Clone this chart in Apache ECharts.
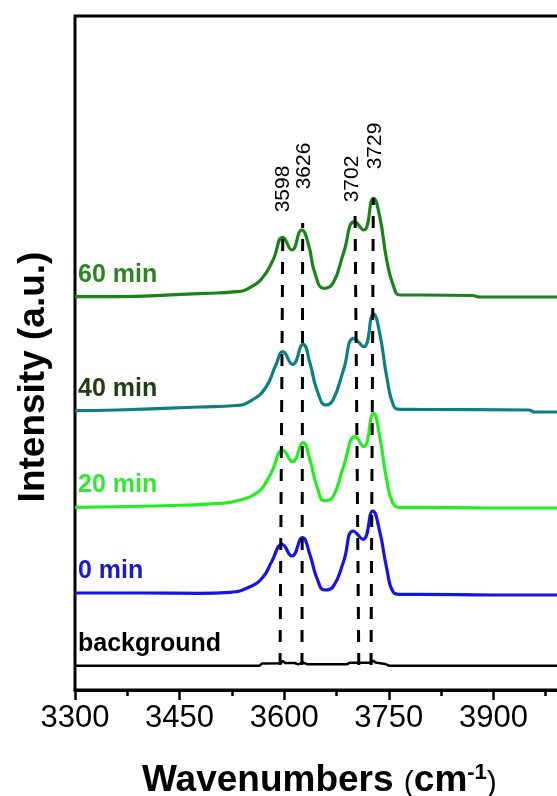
<!DOCTYPE html>
<html>
<head>
<meta charset="utf-8">
<script src="https://cdn.jsdelivr.net/npm/echarts@6/dist/echarts.min.js"></script>
<style>
html,body{margin:0;padding:0;background:#fff;}
#chart{width:557px;height:796px;}
</style>
</head>
<body>
<div id="chart"></div>
<script>
// ---- data (wavenumber in cm-1, intensity in arbitrary offset units) ----
const seriesNames = ['background', '0 min', '20 min', '40 min', '60 min'];

const xBg = [3300, 3565, 3568, 3595, 3598, 3601, 3615, 3620, 3627, 3633, 3690, 3694, 3725, 3728, 3731, 3745, 3750, 4050];
const yBg = [2.43, 2.43, 2.65, 2.67, 2.92, 2.70, 2.70, 2.57, 2.77, 2.57, 2.57, 2.73, 2.73, 2.92, 2.75, 2.60, 2.43, 2.43];

const x0 = [3300, 3400, 3479, 3522, 3551, 3570, 3582, 3597, 3611, 3626, 3637, 3647, 3658, 3670, 3685, 3699, 3713, 3727, 3737, 3747, 3756, 3766, 3795, 3900, 4050];
const y0 = [9.70, 9.70, 9.67, 9.77, 10.33, 11.33, 12.83, 14.57, 13.40, 15.23, 13.50, 11.17, 10.00, 10.33, 12.83, 15.90, 15.07, 17.90, 15.83, 12.17, 9.83, 9.57, 9.57, 9.50, 9.50];

const x20 = [3300, 3412, 3507, 3537, 3563, 3575, 3583, 3598, 3612, 3627, 3637, 3647, 3658, 3670, 3685, 3702, 3714, 3728, 3737, 3747, 3756, 3766, 3795, 3900, 4050];
const y20 = [18.27, 18.40, 18.67, 19.00, 19.83, 20.90, 21.95, 24.00, 22.83, 24.73, 23.00, 20.33, 18.93, 19.33, 22.33, 25.33, 24.33, 27.67, 25.33, 21.00, 18.67, 18.27, 18.27, 18.20, 18.20];

const x40 = [3300, 3360, 3479, 3531, 3554, 3574, 3588, 3598, 3612, 3627, 3637, 3647, 3660, 3670, 3685, 3700, 3714, 3728, 3737, 3747, 3757, 3766, 3795, 3950, 3960, 4050];
const y40 = [27.93, 28.00, 28.30, 28.45, 29.00, 30.30, 32.50, 33.83, 32.57, 34.57, 32.67, 30.00, 28.50, 29.00, 32.00, 35.17, 34.33, 37.60, 35.67, 31.33, 28.40, 28.07, 28.05, 28.00, 27.80, 27.80];

const x60 = [3300, 3340, 3487, 3532, 3553, 3570, 3584, 3598, 3611, 3625, 3635, 3644, 3657, 3670, 3685, 3701, 3714, 3728, 3737, 3747, 3757, 3766, 3795, 3870, 3880, 4050];
const y60 = [39.33, 39.33, 39.67, 39.83, 40.33, 41.33, 43.00, 45.27, 44.00, 46.00, 44.50, 41.67, 40.17, 40.67, 43.67, 46.83, 46.00, 49.17, 47.33, 43.00, 40.33, 39.50, 39.50, 39.45, 39.30, 39.30];

// peak guide lines: bottom / top wavenumber and intensity
const peakNames = ['3598', '3626', '3702', '3729'];
const peakXBottom = [3594, 3625.5, 3707, 3724.5];
const peakXTop = [3598, 3626.5, 3701.6, 3727.8];
const peakYBottom = [2.5, 2.5, 2.5, 2.5];
const peakYTop = [46.2, 46.7, 47.7, 49.2];
const peakLabelX = [3598.3, 3629, 3697, 3730];
const peakLabelY = [50.1, 52.4, 51.1, 54.4];

const lineColors = ['#000000', '#1414e6', '#22ee22', '#0f8080', '#1a831a'];
const textColors = ['#000000', '#1a1acc', '#33e833', '#223d14', '#2b8520'];

// ---- build ----
const FONT = '"Liberation Sans", Arial, sans-serif';
const xs = [xBg, x0, x20, x40, x60];
const ys = [yBg, y0, y20, y40, y60];

function zip(a, b) { return a.map((v, i) => [v, b[i]]); }

const series = [];
seriesNames.forEach((name, i) => {
  series.push({
    name: name,
    type: 'line',
    data: zip(xs[i], ys[i]),
    showSymbol: false,
    smooth: i === 0 ? false : 0.5,
    lineStyle: { color: lineColors[i], width: i === 0 ? 2.5 : 3.2 },
    z: 2,
    silent: true,
    animation: false,
    markPoint: {
      symbol: 'circle',
      symbolSize: 2,
      itemStyle: { color: 'rgba(0,0,0,0)' },
      silent: true,
      animation: false,
      data: [{
        coord: [xs[i][0], ys[i][0]],
        label: {
          show: true,
          formatter: name,
          position: [4, -21],
          align: 'left',
          verticalAlign: 'middle',
          fontFamily: FONT,
          fontWeight: 'bold',
          fontSize: 25,
          color: textColors[i]
        }
      }]
    }
  });
});

peakNames.forEach((p, k) => {
  series.push({
    name: 'peak ' + p,
    type: 'line',
    data: [[peakXBottom[k], peakYBottom[k]], [peakXTop[k], peakYTop[k]]],
    showSymbol: false,
    lineStyle: { color: '#000', width: 3, type: [12, 11] },
    z: 5,
    silent: true,
    animation: false,
    markPoint: {
      symbol: 'circle',
      symbolSize: 2,
      itemStyle: { color: 'rgba(0,0,0,0)' },
      silent: true,
      animation: false,
      data: [{
        coord: [peakLabelX[k], peakLabelY[k]],
        label: {
          show: true,
          formatter: p,
          position: 'inside',
          rotate: 90,
          align: 'center',
          verticalAlign: 'middle',
          fontFamily: FONT,
          fontSize: 21,
          color: '#000'
        }
      }]
    }
  });
});

const chart = echarts.init(document.getElementById('chart'), null, { renderer: 'canvas' });
chart.setOption({
  animation: false,
  backgroundColor: '#ffffff',
  title: {
    text: '{b|Wavenumbers }{p|(}{b|cm}{s|-1}{p|)}',
    left: 137,
    top: 757,
    textStyle: {
      rich: {
        b: { fontFamily: FONT, fontWeight: 'bold', fontSize: 37, color: '#000' },
        p: { fontFamily: FONT, fontWeight: 'normal', fontSize: 30, color: '#000', verticalAlign: 'bottom' },
        s: { fontFamily: FONT, fontWeight: 'bold', fontSize: 22, color: '#000', verticalAlign: 'top' }
      }
    }
  },
  graphic: [{
    type: 'text',
    x: 34,
    y: 377,
    rotation: Math.PI / 2,
    style: {
      text: 'Intensity (a.u.)',
      font: 'bold 37px "Liberation Sans", Arial, sans-serif',
      fill: '#000',
      align: 'center',
      verticalAlign: 'middle'
    }
  }],
  grid: {
    left: 75,
    top: 16,
    width: 523,
    height: 674,
    show: true,
    borderColor: '#000',
    borderWidth: 3,
    containLabel: false,
    outerBoundsMode: 'none'
  },
  xAxis: {
    type: 'value',
    min: 3300,
    max: 4050,
    interval: 150,
    axisLine: { show: true, lineStyle: { color: '#000', width: 3 } },
    axisTick: { show: true, length: 10, lineStyle: { color: '#000', width: 2.5 } },
    minorTick: { show: true, splitNumber: 2, length: 6, lineStyle: { color: '#000', width: 2.5 } },
    axisLabel: { fontFamily: FONT, fontSize: 31, color: '#000', margin: 13, formatter: function (v) { return String(v); } },
    splitLine: { show: false },
    minorSplitLine: { show: false }
  },
  yAxis: {
    type: 'value',
    min: 0,
    max: 67.4,
    show: false,
    splitLine: { show: false }
  },
  series: series
});
</script>
</body>
</html>
